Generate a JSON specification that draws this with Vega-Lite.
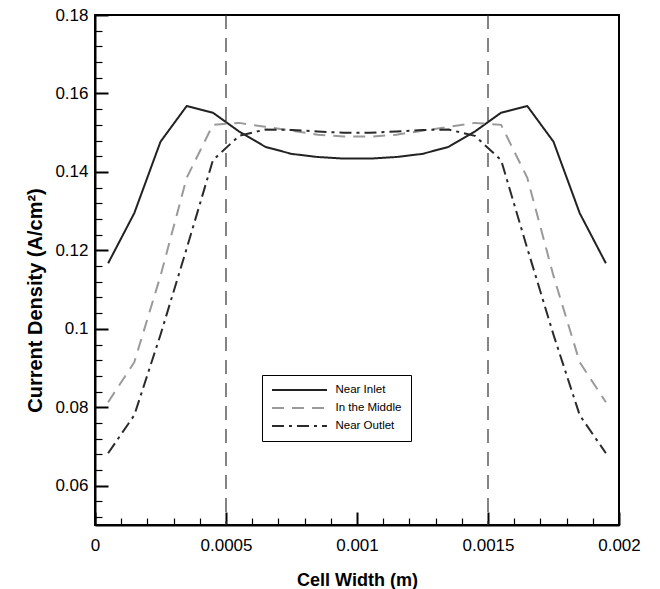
{
  "$schema": "https://vega.github.io/schema/vega-lite/v6.json",
  "autosize": "none",
  "width": 524,
  "height": 510,
  "padding": {"left": 95, "top": 15, "right": 41, "bottom": 64},
  "background": "white",
  "config": {
    "font": "Liberation Sans",
    "view": {"stroke": "black", "strokeWidth": 2},
    "axis": {
      "grid": false,
      "domainColor": "black",
      "domainWidth": 2,
      "tickColor": "black",
      "labelColor": "black",
      "titleColor": "black",
      "labelFont": "Liberation Sans",
      "titleFont": "Liberation Sans",
      "labelFontSize": 17,
      "titleFontSize": 18,
      "titleFontWeight": "bold"
    },
    "legend": {
      "title": "        ",
      "titleOrient": "right",
      "titleFontSize": 11,
      "titlePadding": 16,
      "orient": "none",
      "legendX": 167,
      "legendY": 360,
      "symbolType": "M-5.5,0H5.5",
      "symbolSize": 100,
      "symbolOffset": 22.5,
      "symbolStrokeWidth": 2,
      "labelFontSize": 11.5,
      "labelFont": "Liberation Sans",
      "labelColor": "black",
      "labelOffset": 30,
      "rowPadding": 6,
      "padding": 9,
      "strokeColor": "black",
      "fillColor": "white",
      "cornerRadius": 0
    }
  },
  "datasets": {
    "curves": [
      {"x": 0.00005, "series": "Near Inlet", "y": 0.1167},
      {"x": 0.00015, "series": "Near Inlet", "y": 0.1295},
      {"x": 0.00025, "series": "Near Inlet", "y": 0.1477},
      {"x": 0.00035, "series": "Near Inlet", "y": 0.1568},
      {"x": 0.00045, "series": "Near Inlet", "y": 0.1551},
      {"x": 0.00055, "series": "Near Inlet", "y": 0.1503},
      {"x": 0.00065, "series": "Near Inlet", "y": 0.1464},
      {"x": 0.00075, "series": "Near Inlet", "y": 0.1446},
      {"x": 0.00085, "series": "Near Inlet", "y": 0.1438},
      {"x": 0.00095, "series": "Near Inlet", "y": 0.1434},
      {"x": 0.00105, "series": "Near Inlet", "y": 0.1434},
      {"x": 0.00115, "series": "Near Inlet", "y": 0.1438},
      {"x": 0.00125, "series": "Near Inlet", "y": 0.1446},
      {"x": 0.00135, "series": "Near Inlet", "y": 0.1464},
      {"x": 0.00145, "series": "Near Inlet", "y": 0.1503},
      {"x": 0.00155, "series": "Near Inlet", "y": 0.1551},
      {"x": 0.00165, "series": "Near Inlet", "y": 0.1568},
      {"x": 0.00175, "series": "Near Inlet", "y": 0.1477},
      {"x": 0.00185, "series": "Near Inlet", "y": 0.1295},
      {"x": 0.00195, "series": "Near Inlet", "y": 0.1167},
      {"x": 0.00005, "series": "In the Middle", "y": 0.0813},
      {"x": 0.00015, "series": "In the Middle", "y": 0.0915},
      {"x": 0.00025, "series": "In the Middle", "y": 0.1135},
      {"x": 0.00035, "series": "In the Middle", "y": 0.1385},
      {"x": 0.00045, "series": "In the Middle", "y": 0.1520},
      {"x": 0.00055, "series": "In the Middle", "y": 0.1525},
      {"x": 0.00065, "series": "In the Middle", "y": 0.1515},
      {"x": 0.00075, "series": "In the Middle", "y": 0.1505},
      {"x": 0.00085, "series": "In the Middle", "y": 0.1495},
      {"x": 0.00095, "series": "In the Middle", "y": 0.1490},
      {"x": 0.00105, "series": "In the Middle", "y": 0.1490},
      {"x": 0.00115, "series": "In the Middle", "y": 0.1495},
      {"x": 0.00125, "series": "In the Middle", "y": 0.1505},
      {"x": 0.00135, "series": "In the Middle", "y": 0.1515},
      {"x": 0.00145, "series": "In the Middle", "y": 0.1525},
      {"x": 0.00155, "series": "In the Middle", "y": 0.1520},
      {"x": 0.00165, "series": "In the Middle", "y": 0.1385},
      {"x": 0.00175, "series": "In the Middle", "y": 0.1135},
      {"x": 0.00185, "series": "In the Middle", "y": 0.0915},
      {"x": 0.00195, "series": "In the Middle", "y": 0.0813},
      {"x": 0.00005, "series": "Near Outlet", "y": 0.0683},
      {"x": 0.00015, "series": "Near Outlet", "y": 0.0780},
      {"x": 0.00025, "series": "Near Outlet", "y": 0.0985},
      {"x": 0.00035, "series": "Near Outlet", "y": 0.1205},
      {"x": 0.00045, "series": "Near Outlet", "y": 0.1430},
      {"x": 0.00055, "series": "Near Outlet", "y": 0.1492},
      {"x": 0.00065, "series": "Near Outlet", "y": 0.1508},
      {"x": 0.00075, "series": "Near Outlet", "y": 0.1507},
      {"x": 0.00085, "series": "Near Outlet", "y": 0.1503},
      {"x": 0.00095, "series": "Near Outlet", "y": 0.1500},
      {"x": 0.00105, "series": "Near Outlet", "y": 0.1500},
      {"x": 0.00115, "series": "Near Outlet", "y": 0.1503},
      {"x": 0.00125, "series": "Near Outlet", "y": 0.1507},
      {"x": 0.00135, "series": "Near Outlet", "y": 0.1508},
      {"x": 0.00145, "series": "Near Outlet", "y": 0.1492},
      {"x": 0.00155, "series": "Near Outlet", "y": 0.1430},
      {"x": 0.00165, "series": "Near Outlet", "y": 0.1205},
      {"x": 0.00175, "series": "Near Outlet", "y": 0.0985},
      {"x": 0.00185, "series": "Near Outlet", "y": 0.0780},
      {"x": 0.00195, "series": "Near Outlet", "y": 0.0683}
    ],
    "guides": [{"x": 0.0005}, {"x": 0.0015}]
  },
  "encoding": {
    "x": {
      "field": "x",
      "type": "quantitative",
      "scale": {"domain": [0, 0.002], "nice": false, "zero": false},
      "axis": {
        "title": "Cell Width (m)",
        "titlePadding": 12,
        "values": [0, 0.0001, 0.0002, 0.0003, 0.0004, 0.0005, 0.0006, 0.0007, 0.0008, 0.0009, 0.001, 0.0011, 0.0012, 0.0013, 0.0014, 0.0015, 0.0016, 0.0017, 0.0018, 0.0019, 0.002],
        "labelExpr": "abs(datum.value*2000 - round(datum.value*2000)) < 0.01 ? format(datum.value, '.4~f') : ''",
        "labelPadding": 25,
        "labelFlush": false,
        "labelOverlap": false,
        "tickSize": {"condition": {"test": "abs(datum.value*2000 - round(datum.value*2000)) < 0.01", "value": -13}, "value": -7},
        "tickWidth": {"condition": {"test": "abs(datum.value*2000 - round(datum.value*2000)) < 0.01", "value": 2}, "value": 1.2}
      }
    }
  },
  "layer": [
    {
      "data": {"name": "guides"},
      "mark": {"type": "rule", "color": "#333333", "strokeWidth": 1.2, "strokeDash": [14, 9]},
      "encoding": {}
    },
    {
      "data": {"name": "curves"},
      "mark": {"type": "line", "strokeWidth": 2},
      "encoding": {
        "y": {
          "field": "y",
          "type": "quantitative",
          "scale": {"domain": [0.05, 0.18], "nice": false, "zero": false},
          "axis": {
            "title": "Current Density (A/cm²)",
            "titlePadding": 9,
            "titleFontSize": 20,
            "titleY": 285,
            "values": [0.052, 0.056, 0.06, 0.064, 0.068, 0.072, 0.076, 0.08, 0.084, 0.088, 0.092, 0.096, 0.1, 0.104, 0.108, 0.112, 0.116, 0.12, 0.124, 0.128, 0.132, 0.136, 0.14, 0.144, 0.148, 0.152, 0.156, 0.16, 0.164, 0.168, 0.172, 0.176, 0.18],
            "labelExpr": "abs(datum.value*50 - round(datum.value*50)) < 0.01 ? format(datum.value, '.2~f') : ''",
            "labelPadding": 20,
            "labelFlush": false,
            "labelOverlap": false,
            "tickSize": {"condition": {"test": "abs(datum.value*50 - round(datum.value*50)) < 0.01", "value": -13}, "value": -7},
            "tickWidth": {"condition": {"test": "abs(datum.value*50 - round(datum.value*50)) < 0.01", "value": 2}, "value": 1.2}
          }
        },
        "color": {
          "field": "series",
          "type": "nominal",
          "scale": {"domain": ["Near Inlet", "In the Middle", "Near Outlet"], "range": ["#222222", "#9a9a9a", "#2a2a2a"]}
        },
        "strokeDash": {
          "field": "series",
          "type": "nominal",
          "scale": {"domain": ["Near Inlet", "In the Middle", "Near Outlet"], "range": [[1, 0], [12, 8], [12, 5, 3, 5]]}
        }
      }
    }
  ]
}
